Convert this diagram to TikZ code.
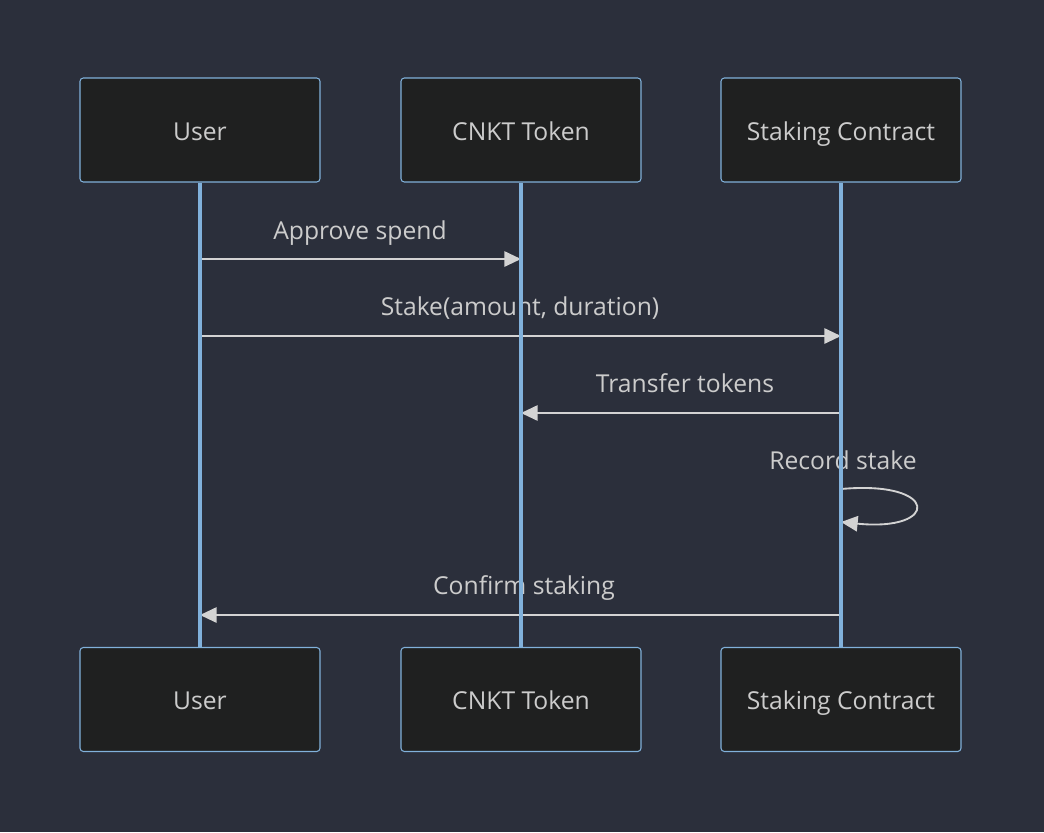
\documentclass[tikz,border=0pt]{standalone}
\usepackage{fontspec}
\setmainfont{Open Sans}
\usepackage{tikz}
\usetikzlibrary{arrows.meta}

\definecolor{bgcol}{HTML}{2B2F3B}
\definecolor{boxfill}{HTML}{1F2020}
\definecolor{boxline}{HTML}{81B1DB}
\definecolor{msgcol}{HTML}{D3D3D3}
\definecolor{txtcol}{HTML}{CCCCCC}

\begin{document}
\begin{tikzpicture}[x=0.75pt,y=-0.75pt]
        \tikzset{actor/.style={draw=boxline,fill=boxfill,rounded corners=2.5pt,line width=0.8pt,minimum width=180pt,minimum height=78pt,inner sep=0pt,text=txtcol,text height=15.5pt,text depth=0.5pt,font=\fontsize{18.5}{21}\selectfont}}
        \tikzset{lifeline/.style={draw=boxline,line width=2.3pt}}
        \tikzset{msg/.style={draw=msgcol,line width=1.4pt,-{Triangle[length=12.5pt,width=11.5pt]}}}
        \tikzset{msglabel/.style={text=txtcol,font=\fontsize{18.5}{21}\selectfont,inner sep=0pt,text height=14pt,text depth=2pt}}

        \useasboundingbox (0,0) rectangle (1044,832);
        \fill[bgcol] (0,0) rectangle (1044,832);

        %actors, top and bottom
        \node[actor] (user_top) at (200,130) {User};
        \node[actor] (token_top) at (521,130) {CNKT Token};
        \node[actor] (stake_top) at (841,130) {Staking Contract};
        \node[actor] (user_bot) at (200,699.5) {User};
        \node[actor] (token_bot) at (521,699.5) {CNKT Token};
        \node[actor] (stake_bot) at (841,699.5) {Staking Contract};

        %points on the lifelines
        \coordinate (u1) at (200,259);
        \coordinate (t1) at (521,259);
        \coordinate (u2) at (200,336);
        \coordinate (s2) at (841,336);
        \coordinate (s3) at (841,413);
        \coordinate (t3) at (521,413);
        \coordinate (s4a) at (841,489);
        \coordinate (s4b) at (841,522);
        \coordinate (s5) at (841,615);
        \coordinate (u5) at (200,615);

        %messages
        \node[msglabel] (l1) at (360,231) {Approve spend};
        \draw[msg] (u1) -- (t1);
        \node[msglabel] (l2) at (520,307) {Stake(amount, duration)};
        \draw[msg] (u2) -- (s2);
        \node[msglabel] (l3) at (685,384) {Transfer tokens};
        \draw[msg] (s3) -- (t3);
        \node[msglabel] (l4) at (843,461) {Record stake};
        \draw[msg] (s4a) .. controls (940,480) and (940,532) .. (s4b);
        \node[msglabel] (l5) at (524,586) {Confirm staking};
        \draw[msg] (s5) -- (u5);

        %lifelines
        \draw[lifeline] (user_top.south) -- (user_bot.north);
        \draw[lifeline] (token_top.south) -- (token_bot.north);
        \draw[lifeline] (stake_top.south) -- (stake_bot.north);
        \end{tikzpicture}
\end{document}
